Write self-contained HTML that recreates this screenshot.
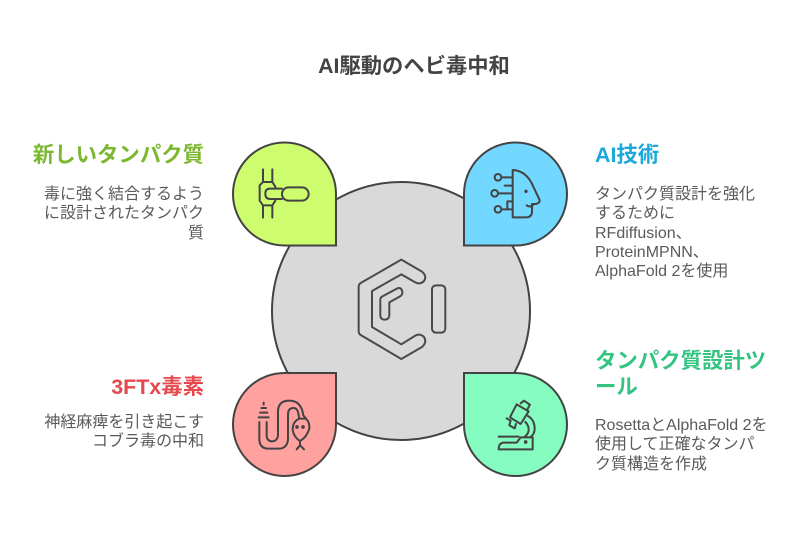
<!DOCTYPE html>
<html lang="ja"><head><meta charset="utf-8"><style>
html,body{margin:0;padding:0;background:#fff}
#p{position:relative;width:800px;height:534px;overflow:hidden;background:#fff;font-family:"Liberation Sans","Noto Sans CJK JP",sans-serif}
#p svg{position:absolute;left:0;top:0}
.t{position:absolute;white-space:nowrap}
.h{font-weight:700;font-size:21.4px;line-height:32px}
.b{font-size:16px;line-height:19.3px;color:#5a5a5a}
.r{text-align:right;right:596px}
.l{left:595px}
</style></head><body><div id="p">
<svg width="800" height="534" viewBox="0 0 800 534" fill="none" stroke="#434343">
<circle cx="401" cy="311" r="129" fill="#d9d9d9" stroke-width="2"/>
<path d="M336 245.500H285A51.500 51.500 0 1 1 336 194Z" fill="#cefc6f" stroke-width="2"/>
<path d="M464 245.500H515.500A51.500 51.500 0 1 0 464 194Z" fill="#73d8ff" stroke-width="2"/>
<path d="M336 373H285A51.500 51.500 0 1 0 336 424.500Z" fill="#ffa19e" stroke-width="2"/>
<path d="M464 373H515.500A51.500 51.500 0 1 1 464 424.500Z" fill="#85fcc0" stroke-width="2"/>
<g transform="translate(220 130) scale(.3333)" stroke-width="6" stroke-linecap="round" stroke-linejoin="round">
<path d="M129 118V156M157 118V156M129 226V263M157 226V263"/>
<path d="M129 156H157L166 170V176M129 156L119 166V212L129 226H157L166 212V207"/>
<path d="M186 176H150Q136 176 136 191Q136 207 150 207H186"/>
<rect x="186" y="172" width="80" height="40" rx="20"/>
</g>
<g transform="translate(450 130) scale(.3333)" stroke-width="6" stroke-linecap="round" stroke-linejoin="round">
<path d="M188 120V262H228Q246 262 246 244V222H258Q272 218 268 208L250 170Q230 122 188 120Z"/>
<circle cx="144" cy="142" r="10"/><circle cx="134" cy="190" r="10"/><circle cx="144" cy="238" r="10"/>
<path d="M154 142H188M164 167H188M144 190H188M154 238H172V214H188M172 238H188"/>
<path d="M230 226Q240 234 250 224"/>
<circle cx="228" cy="184" r="2" fill="#434343"/>
</g>
<g transform="translate(220 360) scale(.3333)" stroke-width="6" stroke-linecap="round" stroke-linejoin="round">
<path d="M131 128V134M124 144H138M120 158H142M116 172H146"/>
<path d="M118 186V240Q120 266 146 266H176Q200 266 204 240V164Q204 144 220 144Q234 144 236 166L238 176"/>
<path d="M140 186V228Q142 244 156 244Q172 244 174 226V152Q176 122 208 122Q244 122 250 166L258 176"/>
<path d="M238 176Q218 184 218 210Q222 232 240 243Q260 232 268 206Q270 188 258 176Z"/>
<circle cx="231" cy="201" r="2.500" fill="#434343"/><circle cx="249" cy="201" r="2.500" fill="#434343"/>
<path d="M240 243V256M240 256L230 268M240 256L252 268"/>
</g>
<g transform="translate(450 360) scale(.3333)" stroke-width="6" stroke-linecap="round" stroke-linejoin="round">
<path d="M200 133L236 154L212 192L180 172Z"/>
<path d="M212 130L222 122L240 134L232 148"/>
<path d="M170 175L182 182M182 182L178 196L194 205L198 192"/>
<path d="M234 168Q254 180 254 206Q254 224 240 232M226 186Q236 196 236 208Q236 222 224 230"/>
<path d="M146 230H206"/>
<path d="M146 268H248V232H212L200 248H160Q146 250 146 268Z"/>
<circle cx="227" cy="246" r="2.500" fill="#434343"/>
</g>
<g transform="translate(340 245) scale(.3333)" stroke-width="6" stroke-linecap="round" stroke-linejoin="round" stroke="#4a4a4a">
<path d="M184 44L246 80Q262 94 252 108Q240 120 226 112L184 88L96 138V246L184 298L226 272Q240 264 252 276Q262 292 246 306L184 342L62 270Q56 266 56 258V126Q56 118 62 114Z"/>
<path d="M172 130Q184 126 187 140Q188 150 180 154L148 172V212Q146 224 134 224Q122 224 121 212V164Q121 158 126 155Z"/>
<rect x="276" y="121" width="40" height="142" rx="12"/>
</g>
</svg>
<div class="t" style="left:0;width:828px;text-align:center;top:51px;font-weight:700;font-size:21.3px;line-height:30px;color:#434343">AI駆動のヘビ毒中和</div>
<div class="t h r" style="top:139px;color:#7cb82f">新しいタンパク質</div>
<div class="t b r" style="top:185px">毒に強く結合するよう<br>に設計されたタンパク<br>質</div>
<div class="t h r" style="top:371px;color:#e5484d">3FTx毒素</div>
<div class="t b r" style="top:413px">神経麻痺を引き起こす<br>コブラ毒の中和</div>
<div class="t h l" style="top:139px;color:#1ba8dc">AI技術</div>
<div class="t b l" style="top:185px">タンパク質設計を強化<br>するために<br>RFdiffusion、<br>ProteinMPNN、<br>AlphaFold 2を使用</div>
<div class="t h l" style="top:348px;color:#33c481;line-height:26px">タンパク質設計ツ<br>ール</div>
<div class="t b l" style="top:416px">RosettaとAlphaFold 2を<br>使用して正確なタンパ<br>ク質構造を作成</div>
</div></body></html>
